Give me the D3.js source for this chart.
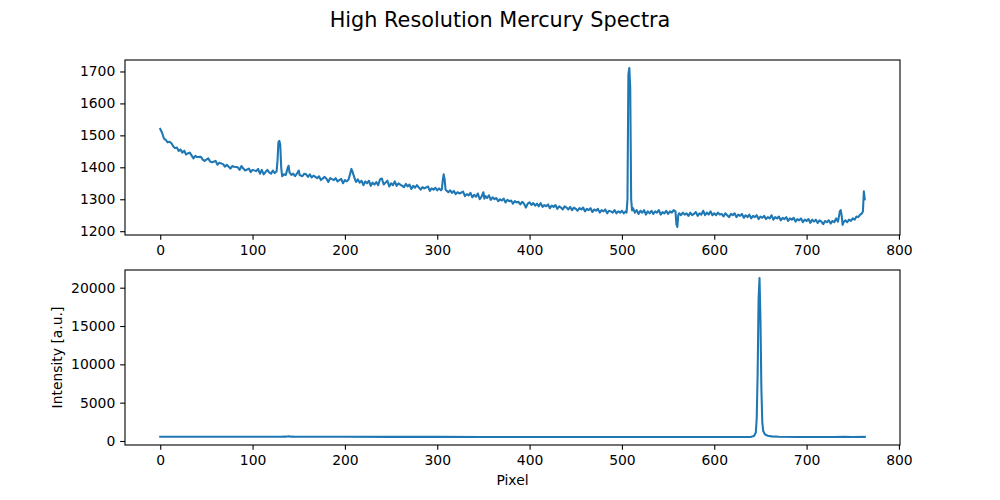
<!DOCTYPE html>
<html>
<head>
<meta charset="utf-8">
<script src="https://cdn.jsdelivr.net/npm/d3@7"></script>
<style>
  html, body { margin: 0; padding: 0; background: #fff; }
  svg { display: block; font-family: "DejaVu Sans", sans-serif; }
</style>
</head>
<body>
<svg id="chart" width="1000" height="500"></svg>
<script>
// ---- DATA ----
const title = "High Resolution Mercury Spectra";
const xLabel = "Pixel";
const yLabel = "Intensity [a.u.]";
const xTicks = [0, 100, 200, 300, 400, 500, 600, 700, 800];
const topYTicks = [1200, 1300, 1400, 1500, 1600, 1700];
const bottomYTicks = [0, 5000, 10000, 15000, 20000];

// top panel: [pixel, counts]
const topSpectrum = [
[0,1520],[2,1508],[4,1490],[6,1486],[8,1478],[10,1480],[12,1476],[14,1466],[16,1460],[18,1462],
[20,1451],[22,1456],[24,1446],[26,1452],[28,1440],[30,1444],[32,1446],[36,1428],[38,1436],[40,1432],
[44,1433],[46,1424],[48,1420],[52,1428],[54,1418],[56,1416],[60,1420],[62,1408],[64,1414],[68,1410],
[70,1402],[72,1408],[76,1396],[78,1404],[80,1402],[84,1400],[86,1392],[88,1404],[90,1396],[92,1390],
[96,1396],[98,1385],[100,1392],[104,1388],[106,1395],[108,1380],[110,1392],[112,1378],[116,1392],[118,1384],
[120,1380],[122,1390],[124,1382],[126,1387],[127,1420],[128,1478],[129,1483],[130,1470],[131,1400],[132,1372],
[134,1378],[136,1376],[138,1398],[139,1405],[140,1384],[142,1376],[144,1380],[146,1372],[148,1380],[150,1390],
[151,1376],[154,1372],[156,1380],[158,1378],[160,1370],[162,1378],[164,1368],[166,1374],[170,1366],[172,1372],
[174,1360],[178,1370],[180,1364],[182,1354],[184,1366],[188,1360],[190,1366],[192,1356],[196,1364],[198,1350],
[200,1360],[202,1356],[204,1362],[206,1384],[207,1395],[208,1388],[210,1370],[212,1354],[214,1362],[216,1352],
[218,1358],[220,1344],[222,1356],[224,1350],[226,1358],[228,1342],[230,1352],[232,1346],[234,1354],[236,1344],
[238,1362],[240,1365],[242,1346],[244,1352],[246,1358],[248,1340],[250,1350],[252,1344],[254,1356],[256,1342],
[258,1350],[260,1346],[264,1338],[266,1348],[268,1340],[270,1346],[272,1332],[274,1342],[276,1336],[278,1344],
[282,1330],[284,1338],[286,1334],[290,1340],[292,1326],[294,1334],[296,1330],[298,1336],[300,1328],[302,1334],
[304,1328],[305,1332],[306,1360],[307,1378],[308,1362],[309,1330],[312,1322],[314,1328],[316,1320],[318,1326],
[320,1316],[322,1322],[324,1318],[328,1324],[330,1310],[332,1316],[334,1312],[336,1320],[338,1306],[340,1314],
[342,1308],[344,1318],[346,1300],[348,1308],[350,1322],[351,1302],[352,1310],[354,1304],[356,1312],[358,1298],
[360,1306],[362,1300],[364,1304],[366,1294],[368,1300],[370,1296],[372,1302],[374,1290],[376,1298],[378,1294],
[380,1296],[382,1286],[384,1294],[386,1290],[388,1292],[390,1284],[392,1292],[394,1286],[396,1274],[398,1286],
[400,1290],[402,1282],[404,1288],[406,1280],[408,1286],[410,1278],[412,1288],[414,1276],[416,1282],[418,1278],
[420,1284],[422,1272],[424,1280],[426,1276],[428,1282],[430,1270],[432,1278],[434,1274],[436,1268],[438,1278],
[440,1274],[442,1268],[444,1276],[446,1266],[448,1274],[450,1270],[452,1264],[454,1272],[456,1268],[458,1274],
[460,1262],[462,1270],[464,1266],[466,1272],[468,1260],[470,1268],[472,1264],[474,1270],[476,1258],[478,1266],
[480,1262],[482,1268],[484,1256],[486,1264],[488,1262],[490,1258],[492,1266],[494,1256],[496,1262],[498,1258],
[500,1264],[502,1256],[504,1262],[505,1258],[506,1300],[507,1690],[508,1711],[509,1650],[510,1300],[511,1265],
[512,1272],[514,1258],[516,1266],[518,1254],[520,1264],[522,1258],[524,1266],[526,1252],[528,1262],[530,1256],
[532,1264],[534,1254],[536,1262],[538,1258],[540,1266],[542,1252],[544,1260],[546,1256],[548,1264],[550,1254],
[552,1262],[554,1258],[556,1266],[558,1262],[559,1222],[560,1213],[561,1250],[562,1256],[564,1250],[566,1258],
[568,1252],[570,1256],[572,1248],[574,1258],[576,1250],[578,1254],[580,1260],[582,1248],[584,1256],[586,1252],
[588,1264],[590,1250],[592,1258],[594,1252],[596,1262],[598,1250],[600,1256],[602,1250],[604,1258],[606,1252],
[608,1254],[610,1246],[612,1256],[614,1250],[616,1244],[618,1254],[620,1250],[622,1256],[624,1244],[626,1252],
[628,1248],[630,1254],[632,1242],[634,1250],[636,1244],[638,1252],[640,1240],[642,1248],[644,1244],[646,1250],
[648,1238],[650,1246],[652,1242],[654,1248],[656,1238],[658,1244],[660,1240],[662,1250],[664,1236],[666,1244],
[668,1240],[670,1246],[672,1234],[674,1242],[676,1238],[678,1244],[680,1232],[682,1240],[684,1236],[686,1242],
[688,1230],[690,1238],[692,1234],[694,1240],[696,1228],[698,1236],[700,1232],[702,1238],[704,1226],[706,1236],
[708,1230],[710,1236],[712,1226],[714,1234],[716,1230],[718,1222],[720,1232],[722,1228],[724,1234],[726,1224],
[728,1232],[730,1228],[732,1240],[734,1230],[736,1262],[737,1266],[738,1248],[739,1220],[740,1228],[742,1234],
[744,1228],[746,1236],[748,1232],[750,1240],[752,1236],[754,1246],[756,1244],[758,1252],[760,1256],[761,1262],
[762,1325],[763,1300]
];

// bottom panel: [pixel, intensity]
const bottomSpectrum = [
[0,560],[20,562],[40,558],[60,560],[80,556],[100,555],[120,552],[130,552],[136,565],[139,620],
[142,565],[146,550],[160,548],[200,545],[250,540],[300,535],[350,530],[400,528],[450,524],[500,520],
[550,518],[600,515],[630,520],[640,540],[643,650],[645,1100],[646,3000],[647,9000],[648,18500],[649,21270],
[650,16000],[651,7000],[652,2500],[653,1300],[655,850],[658,680],[662,600],[670,560],[690,530],[710,520],
[730,520],[740,545],[750,520],[763,540]
];

// ---- LAYOUT ----
const svg = d3.select("#chart");
const W = 1000, H = 500;
const left = 125, right = 900;
const panels = [
  { top: 60, bottom: 235, data: topSpectrum, ticks: topYTicks },
  { top: 270, bottom: 445, data: bottomSpectrum, ticks: bottomYTicks }
];
const color = "#1f77b4";
const tickLen = 4.86, tickPad = 4.86, fontSize = 13.9;

function paddedExtent(vals) {
  const [a, b] = d3.extent(vals);
  const m = (b - a) * 0.05;
  return [a - m, b + m];
}

const allX = topSpectrum.map(d => d[0]).concat(bottomSpectrum.map(d => d[0]));

panels.forEach((p, i) => {
  const x = d3.scaleLinear().domain(paddedExtent(allX)).range([left, right]);
  const y = d3.scaleLinear().domain(paddedExtent(p.data.map(d => d[1]))).range([p.bottom, p.top]);

  const g = svg.append("g");

  const clipId = "clip" + i;
  svg.append("clipPath").attr("id", clipId)
    .append("rect").attr("x", left).attr("y", p.top)
    .attr("width", right - left).attr("height", p.bottom - p.top);

  const line = d3.line().x(d => x(d[0])).y(d => y(d[1]));
  g.append("path").datum(p.data)
    .attr("clip-path", `url(#${clipId})`)
    .attr("d", line)
    .attr("fill", "none")
    .attr("stroke", color)
    .attr("stroke-width", 2.08)
    .attr("stroke-linejoin", "round")
    .attr("stroke-linecap", "square");

  const xAxis = d3.axisBottom(x).tickValues(xTicks).tickSize(tickLen).tickPadding(tickPad).tickFormat(d3.format("d"));
  const xg = g.append("g").attr("transform", `translate(0,${p.bottom})`).call(xAxis);
  const yAxis = d3.axisLeft(y).tickValues(p.ticks).tickSize(tickLen).tickPadding(tickPad).tickFormat(d3.format("d"));
  const yg = g.append("g").attr("transform", `translate(${left},0)`).call(yAxis);

  [xg, yg].forEach(a => {
    a.select(".domain").remove();
    a.selectAll(".tick line").attr("stroke", "#000").attr("stroke-width", 1.1);
    a.selectAll(".tick text").attr("fill", "#000").attr("font-size", fontSize)
      .attr("font-family", "DejaVu Sans, sans-serif");
  });

  g.append("rect").attr("x", left).attr("y", p.top)
    .attr("width", right - left).attr("height", p.bottom - p.top)
    .attr("fill", "none").attr("stroke", "#000").attr("stroke-width", 1.1);
});

// title
svg.append("text").attr("x", W / 2).attr("y", 27)
  .attr("text-anchor", "middle").attr("font-size", 20.8).attr("fill", "#000")
  .text(title);

// x label
svg.append("text").attr("x", (left + right) / 2).attr("y", 484.5)
  .attr("text-anchor", "middle").attr("font-size", fontSize).attr("fill", "#000")
  .text(xLabel);

// y label
svg.append("text")
  .attr("transform", `translate(62,${(270 + 445) / 2}) rotate(-90)`)
  .attr("text-anchor", "middle").attr("font-size", fontSize).attr("fill", "#000")
  .text(yLabel);
</script>
</body>
</html>
